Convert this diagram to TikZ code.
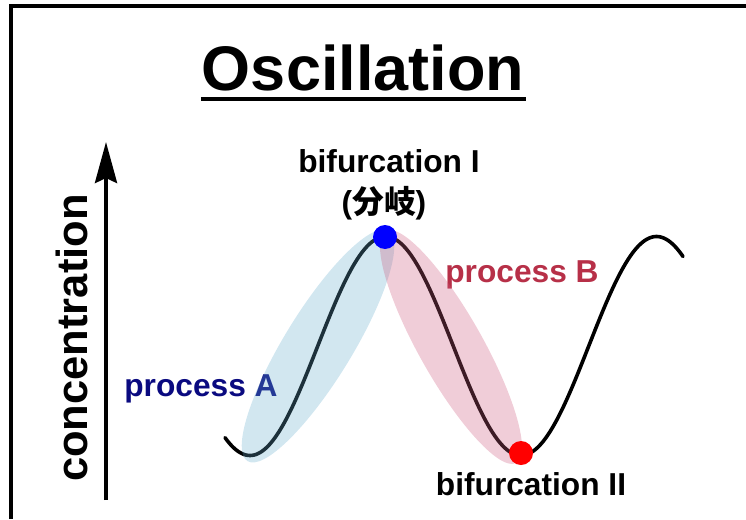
\documentclass[tikz,border=0pt]{standalone}
\usepackage{fontspec}
\setmainfont{Liberation Sans}
\newfontfamily\cjk{Noto Sans CJK JP}
\usetikzlibrary{arrows.meta,calc}
\definecolor{navyA}{RGB}{10,10,128}
\definecolor{crimB}{RGB}{183,48,72}
\definecolor{ellA}{RGB}{100,172,205}
\definecolor{ellB}{RGB}{205,90,125}
\tikzset{
  lbl/.style={inner sep=0pt, anchor=base, font=\fontsize{31.7}{36}\selectfont\bfseries},
  ellfill/.style={draw=none, fill opacity=0.29},
  dotmark/.style={circle, inner sep=0pt, minimum size=24pt, draw=none}
}
\begin{document}
\begin{tikzpicture}[x=1pt,y=1pt]
\useasboundingbox (0,0) rectangle (746,-519);
% frame
\draw[line width=4pt, line join=miter] (11,-519) -- (11,-6) -- (746,-6);
% title
\node[inner sep=0pt, anchor=base, font=\fontsize{63}{70}\selectfont\bfseries] (title) at (363,-90) {Oscillation};
\draw[line width=4.5pt] ($(title.base west)+(-1,-9)$) -- ($(title.base east)+(2,-9)$);
% axis
\coordinate (axbot) at (106,-500);
\coordinate (axtop) at (106,-142);
\draw[line width=4pt, -{Stealth[length=41pt, width=22pt, inset=5pt]}] (axbot) -- (axtop);
\node[inner sep=0pt, rotate=90, font=\fontsize{43.5}{48}\selectfont\bfseries] (conc) at (72,-338) {concentration};
% process labels (under ellipses)
\node[lbl, text=navyA] (pA) at (201,-396) {process A};
\node[lbl, text=crimB] (pB) at (522,-282) {process B};
% curve
\draw[line width=3.6pt, line cap=round] plot[domain=225:683, samples=240, smooth] (\x, {-(346+109.5*cos((\x-250)*1.328413))});
% ellipses
\fill[ellfill, fill=ellA] (318,-346) ellipse[x radius=135, y radius=34, rotate=58.5];
\fill[ellfill, fill=ellB, fill opacity=0.3] (451,-347) ellipse[x radius=133, y radius=32, rotate=-60.6];
% dots
\node[dotmark, fill={rgb,255:red,0;green,0;blue,255}] (bif1) at (385,-237) {};
\node[dotmark, fill={rgb,255:red,255;green,0;blue,0}] (bif2) at (521,-453) {};
% bifurcation labels
\node[lbl] (b1) at (389,-172) {bifurcation I};
\node[lbl] (b1j) at (384,-213) {(\cjk 分岐\rmfamily)};
\node[lbl] (b2) at (531,-495) {bifurcation II};
\end{tikzpicture}
\end{document}
